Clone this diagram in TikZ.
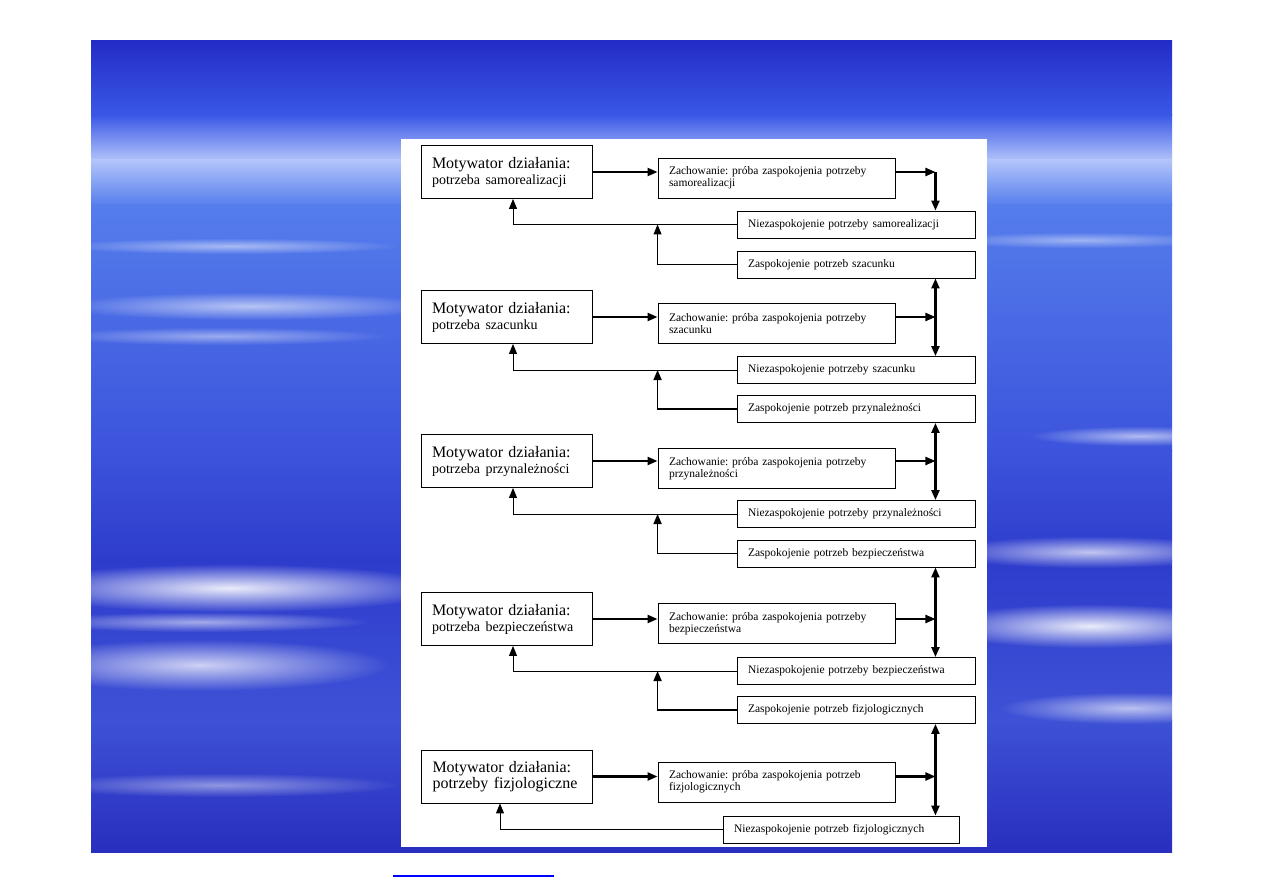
\documentclass[tikz,border=0pt]{standalone}
\usepackage{fontspec}
\setmainfont{Liberation Serif}
\usetikzlibrary{fadings, arrows.meta}
\frenchspacing

\definecolor{skya}{RGB}{36,44,198}
\definecolor{skyb}{RGB}{58,88,230}
\definecolor{skyc}{RGB}{178,196,250}
\definecolor{skyd}{RGB}{85,125,236}
\definecolor{skye}{RGB}{60,84,220}
\definecolor{skyf}{RGB}{46,60,204}
\definecolor{skyg}{RGB}{62,82,214}
\definecolor{skyh}{RGB}{40,46,190}

\tikzfading[name=mgla, inner color=transparent!0, outer color=transparent!100]

\begin{document}
\begin{tikzpicture}[x=1pt, y=-1pt, every node/.style={draw, rectangle, align=left, inner xsep=11pt, inner ysep=0pt, line width=0.9pt}, >={Stealth[length=10pt, width=8pt, inset=0pt]}]

\tikzstyle{motyw}=[minimum height=53pt, text width=149pt, font=\fontsize{16}{16}\selectfont]
\tikzstyle{zach}=[minimum height=40pt, text width=215pt, font=\fontsize{11.5}{12}\selectfont]
\tikzstyle{stan}=[minimum height=27pt, text width=216pt, font=\fontsize{11.5}{12}\selectfont]
\tikzstyle{strz}=[->, line width=2.2pt]
\tikzstyle{powrot}=[->, line width=1pt]
\tikzstyle{chmura}=[white, path fading=mgla]

\useasboundingbox (0,0) rectangle (1263,893);

% tlo
\shade[top color=skya, bottom color=skyb] (91,41) rectangle (1172,116);
\shade[top color=skyb, bottom color=skyc] (91,115) rectangle (1172,161);
\shade[top color=skyc, bottom color=skyd] (91,160) rectangle (1172,206);
\shade[top color=skyd, bottom color=skye] (91,205) rectangle (1172,451);
\shade[top color=skye, bottom color=skyf] (91,450) rectangle (1172,561);
\shade[top color=skyf, bottom color=skyg] (91,560) rectangle (1172,721);
\shade[top color=skyg, bottom color=skyh] (91,720) rectangle (1172,852);

% chmury
\fill[chmura, opacity=.5] (230,246) ellipse (170 and 8);
\fill[chmura, opacity=.6] (250,306) ellipse (190 and 14);
\fill[chmura, opacity=.45] (220,336) ellipse (170 and 9);
\fill[chmura, opacity=.9] (230,588) ellipse (220 and 24);
\fill[chmura, opacity=.55] (200,622) ellipse (170 and 10);
\fill[chmura, opacity=.75] (200,665) ellipse (190 and 26);
\fill[chmura, opacity=.45] (220,785) ellipse (180 and 12);
\fill[chmura, opacity=.45] (1080,240) ellipse (140 and 8);
\fill[chmura, opacity=.6] (1140,436) ellipse (110 and 10);
\fill[chmura, opacity=.7] (1090,552) ellipse (150 and 16);
\fill[chmura, opacity=.9] (1090,626) ellipse (160 and 22);
\fill[chmura, opacity=.65] (1130,708) ellipse (130 and 16);

\fill[white] (401,139) rectangle (987,847);

% motywatory
\node[motyw] (m1) at (506.5,172) {Motywator działania:\\{\fontsize{14}{16}\selectfont potrzeba samorealizacji}};
\node[motyw] (m2) at (506.5,317) {Motywator działania:\\{\fontsize{14}{16}\selectfont potrzeba szacunku}};
\node[motyw] (m3) at (506.5,461) {Motywator działania:\\{\fontsize{14}{16}\selectfont potrzeba przynależności}};
\node[motyw] (m4) at (506.5,619) {Motywator działania:\\{\fontsize{14}{16}\selectfont potrzeba bezpieczeństwa}};
\node[motyw] (m5) at (507,776.5) {Motywator działania:\\potrzeby fizjologiczne};

% zachowania
\node[zach] (z1) at (776.5,178) {Zachowanie: próba zaspokojenia potrzeby\\samorealizacji};
\node[zach] (z2) at (776.5,323.5) {Zachowanie: próba zaspokojenia potrzeby\\szacunku};
\node[zach] (z3) at (776.5,468.5) {Zachowanie: próba zaspokojenia potrzeby\\przynależności};
\node[zach] (z4) at (776.5,623.5) {Zachowanie: próba zaspokojenia potrzeby\\bezpieczeństwa};
\node[zach] (z5) at (776.5,782) {Zachowanie: próba zaspokojenia potrzeb\\fizjologicznych};

% niezaspokojenie / zaspokojenie
\node[stan] (n1) at (856,224.5) {Niezaspokojenie potrzeby samorealizacji};
\node[stan] (s1) at (856,264.5) {Zaspokojenie potrzeb szacunku};
\node[stan] (n2) at (856,370) {Niezaspokojenie potrzeby szacunku};
\node[stan] (s2) at (856,409) {Zaspokojenie potrzeb przynależności};
\node[stan] (n3) at (856,514) {Niezaspokojenie potrzeby przynależności};
\node[stan] (s3) at (856,553.5) {Zaspokojenie potrzeb bezpieczeństwa};
\node[stan] (n4) at (856,671) {Niezaspokojenie potrzeby bezpieczeństwa};
\node[stan] (s4) at (856,710) {Zaspokojenie potrzeb fizjologicznych};
\node[stan, text width=214pt] (n5) at (841,829.5) {Niezaspokojenie potrzeb fizjologicznych};

\coordinate (v1) at ([xshift=40pt]z1.east |- m1.east);
\coordinate (v2) at ([xshift=40pt]z2.east |- m2.east);
\coordinate (v3) at ([xshift=40pt]z3.east |- m3.east);
\coordinate (v4) at ([xshift=40pt]z4.east |- m4.east);
\coordinate (v5) at ([xshift=40pt]z5.east |- m5.east);

% strzalki
\draw[strz] (m1.east) -- (m1.east -| z1.west);
\draw[strz] (m1.east -| z1.east) -- (v1);
\draw[strz] (v1) -- (v1 |- n1.north);
\draw[powrot] (n1.west) -| ([xshift=6.5pt]m1.south);
\draw[powrot] (s1.west) -| (z1.west |- n1.west);

\draw[strz] (m2.east) -- (m2.east -| z2.west);
\draw[strz] (m2.east -| z2.east) -- (v2);
\draw[strz, <->] (v2 |- s1.south) -- (v2 |- n2.north);
\draw[powrot] (n2.west) -| ([xshift=6.5pt]m2.south);
\draw[powrot, line width=1.6pt] (s2.west) -| (z2.west |- n2.west);

\draw[strz] (m3.east) -- (m3.east -| z3.west);
\draw[strz] (m3.east -| z3.east) -- (v3);
\draw[strz, <->] (v3 |- s2.south) -- (v3 |- n3.north);
\draw[powrot] (n3.west) -| ([xshift=6.5pt]m3.south);
\draw[powrot, line width=1.6pt] (s3.west) -| (z3.west |- n3.west);

\draw[strz] (m4.east) -- (m4.east -| z4.west);
\draw[strz] (m4.east -| z4.east) -- (v4);
\draw[strz, <->] (v4 |- s3.south) -- (v4 |- n4.north);
\draw[powrot] (n4.west) -| ([xshift=6.5pt]m4.south);
\draw[powrot, line width=1.6pt] (s4.west) -| (z4.west |- n4.west);

\draw[strz] (m5.east) -- (m5.east -| z5.west);
\draw[strz] (m5.east -| z5.east) -- (v5);
\draw[strz, <->] (v5 |- s4.south) -- (v5 |- n5.north);
\draw[powrot] (n5.west) -| ([xshift=-7pt]m5.south);

\draw[blue, line width=2pt] (393,876) -- (554,876);
\end{tikzpicture}
\end{document}
